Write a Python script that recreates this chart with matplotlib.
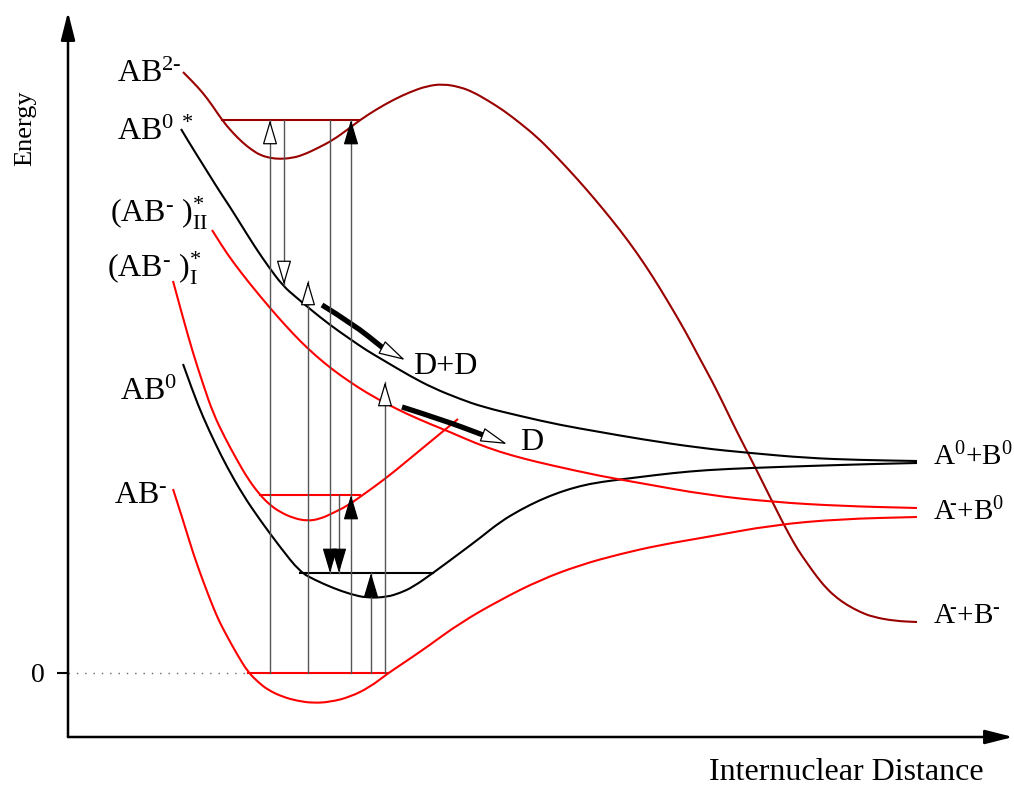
import matplotlib.pyplot as plt
from matplotlib.path import Path
from matplotlib.patches import PathPatch

plt.rcParams['font.family'] = 'Liberation Serif'
plt.rcParams['mathtext.fontset'] = 'custom'
plt.rcParams['mathtext.rm'] = 'Liberation Serif'
plt.rcParams['mathtext.it'] = 'Liberation Serif:italic'
plt.rcParams['mathtext.default'] = 'regular'

RED = '#ff0000'
DARKRED = '#990000'
GREY = '#555555'

# potential curves (distance, energy), arbitrary units
ab2m_x = [115, 125, 135, 144, 154, 164, 175, 184, 192, 202, 212, 224, 235, 250, 265, 279, 292, 309, 325,
          342, 359, 375, 392, 405, 419, 435, 452, 469, 485, 502, 519, 535, 552, 569, 585, 599, 612, 622,
          632, 644, 655, 669, 682, 694, 705, 714, 722, 730, 739, 749, 759, 769, 779, 792, 805, 827, 849]
ab2m_y = [601, 591, 580, 568, 553, 541, 530, 523, 518, 515, 514, 515, 518, 525, 533, 543, 553, 564, 573,
          581, 587, 589, 586, 581, 573, 563, 550, 536, 520, 502, 483, 464, 443, 420, 396, 373, 351, 333,
          314, 292, 270, 241, 216, 192, 170, 152, 137, 123, 110, 96, 84, 75, 68, 61, 56, 52, 51]

ab0s_x = [113, 122, 132, 142, 152, 162, 172, 187, 200, 215, 229, 242, 262, 282, 298, 315, 342, 365, 392,
          415, 452, 492, 532, 572, 632, 682, 739, 792, 849]
ab0s_y = [544, 529, 513, 497, 481, 466, 450, 426, 407, 387, 375, 364, 348, 334, 323, 313, 297, 285, 274,
          266, 257, 248, 241, 234, 225, 220, 215, 213, 212]

ab0_x = [115, 125, 135, 147, 159, 175, 192, 212, 232, 247, 265, 282, 299, 319, 332, 345, 365, 392, 412,
         432, 452, 472, 492, 512, 532, 572, 605, 639, 682, 739, 805, 849]
ab0_y = [309, 281, 256, 230, 206, 178, 153, 126, 101, 93, 85, 79, 75, 76, 80, 86, 100, 120, 135,
         151, 163, 173, 181, 187, 191, 196, 200, 203, 205, 207, 209, 210]

abm_x = [105, 115, 125, 135, 145, 152, 160, 170, 180, 190, 200, 215, 230, 245, 262, 282, 302, 319, 337,
         359, 392, 432, 472, 512, 552, 592, 639, 705, 772, 849]
abm_y = [184, 153, 120, 92, 66, 50, 35, 17, 1, -9, -17, -24, -28, -30, -29, -24, -14, -1, 11,
         26, 50, 73, 93, 108, 119, 128, 136, 148, 154, 156]

abm1_x = [105, 115, 125, 135, 145, 157, 169, 180, 192, 202, 212, 225, 239, 252, 265, 279, 292, 317, 339,
          362, 390]
abm1_y = [392, 355, 320, 289, 260, 235, 213, 194, 178, 168, 161, 155, 152, 154, 160, 167, 176, 194, 212,
          231, 254]

abm2_x = [144, 154, 165, 182, 202, 217, 232, 248, 265, 282, 299, 319, 339, 362, 382, 407, 432, 457, 482,
          532, 572, 639, 705, 772, 849]
abm2_y = [443, 427, 411, 389, 365, 348, 332, 317, 303, 291, 280, 269, 259, 249, 241, 230, 221, 214, 208,
          197, 190, 178, 171, 167, 165]

# vibrational levels: start, end, energy
lev_x0 = [154, 192, 232, 180]
lev_x1 = [292, 292, 365, 319]
lev_y = [553, 178, 100, 0]
lev_c = [DARKRED, RED, 'black', RED]

# vertical transitions: position, from, to, filled head
tr_x = [202, 216, 240, 262, 271, 283, 283, 303, 317]
tr_from = [0, 553, 0, 553, 178, 0, 178, 0, 0]
tr_to = [553, 388, 392, 100, 100, 178, 553, 100, 291]
tr_filled = [False, False, False, True, True, True, True, True, False]

# dissociation paths
d1_x = [254, 285, 315, 337]
d1_y = [368, 349, 325, 313]
d2_x = [334, 375, 415, 439]
d2_y = [266, 253, 238, 229]

fig = plt.figure(figsize=(10.14, 7.86), dpi=100)
ax = fig.add_axes([68 / 1014, 49 / 786, 946 / 1014, 737 / 786])
ax.set_xlim(0, 946)
ax.set_ylim(-64, 673)
for s in ax.spines.values():
    s.set_visible(False)
ax.set_xticks([])
ax.set_yticks([0])
ax.set_yticklabels(['0'])
ax.tick_params(axis='y', length=8, width=1.5, labelsize=20, pad=9)


def smooth_line(xs, ys, **kw):
    # quadratic bezier through the midpoints, the given points act as control points
    pts = list(zip(xs, ys))
    verts = [pts[0]]
    codes = [Path.MOVETO]
    for i in range(1, len(pts) - 1):
        mid = ((pts[i][0] + pts[i + 1][0]) / 2, (pts[i][1] + pts[i + 1][1]) / 2)
        verts += [pts[i], mid]
        codes += [Path.CURVE3, Path.CURVE3]
    verts.append(pts[-1])
    codes.append(Path.LINETO)
    ax.add_patch(PathPatch(Path(verts, codes), fill=False, capstyle='butt', **kw))


# axes with arrow heads
axis_arrow = dict(arrowstyle='-|>,head_length=17,head_width=4.3', mutation_scale=1,
                  fc='black', ec='black', lw=1.8, shrinkA=0, shrinkB=0)
ax.annotate('', xy=(0, 661), xytext=(0, -64), arrowprops=axis_arrow, annotation_clip=False)
ax.annotate('', xy=(945, -64), xytext=(0, -64), arrowprops=axis_arrow, annotation_clip=False)

ax.plot([0, lev_x0[3]], [0, 0], color='#666666', lw=1.0, ls=(0, (1, 5)))

lw = 1.5
smooth_line(ab2m_x, ab2m_y, ec=DARKRED, lw=lw)
smooth_line(ab0s_x, ab0s_y, ec='black', lw=lw)
smooth_line(ab0_x, ab0_y, ec='black', lw=lw)
smooth_line(abm_x, abm_y, ec=RED, lw=lw)
smooth_line(abm1_x, abm1_y, ec=RED, lw=lw)
smooth_line(abm2_x, abm2_y, ec=RED, lw=lw)

for x0, x1, y, c in zip(lev_x0, lev_x1, lev_y, lev_c):
    ax.plot([x0, x1], [y, y], color=c, lw=lw)

for x, y0, y1, filled in zip(tr_x, tr_from, tr_to, tr_filled):
    ax.plot([x, x], [y0, y1], color=GREY, lw=1.0)
    d = 1 if y1 > y0 else -1
    ax.annotate('', xy=(x, y1), xytext=(x, y1 - 22 * d),
                arrowprops=dict(arrowstyle='-|>,head_length=15.5,head_width=4.6', mutation_scale=1,
                                fc='black' if filled else 'white', ec='black', lw=0.9,
                                shrinkA=0, shrinkB=0))

for dx, dy in [(d1_x, d1_y), (d2_x, d2_y)]:
    smooth_line(dx[:-1], dy[:-1], ec='black', lw=3.8)
    ax.annotate('', xy=(dx[-1], dy[-1]), xytext=(dx[-2], dy[-2]),
                arrowprops=dict(arrowstyle='-|>,head_length=17,head_width=4.6', mutation_scale=1,
                                fc='white', ec='black', lw=0.9, shrinkA=0, shrinkB=0))

fs = 23
ax.text(49, 591, r'AB$^{2\text{-}}$', fontsize=fs)
ax.text(49, 533, r'AB$^{0\ *}$', fontsize=fs)
ax.text(42, 451, r'(AB$^{\text{-}}$ )$^{*}_{II}$', fontsize=fs)
ax.text(39, 396, r'(AB$^{\text{-}}$ )$^{*}_{I}$', fontsize=fs)
ax.text(52, 273, r'AB$^{0}$', fontsize=fs)
ax.text(46, 170, r'AB$^{\text{-}}$', fontsize=fs)
ax.text(345, 299, 'D+D', fontsize=fs)
ax.text(452, 223, 'D', fontsize=fs)

fs_r = 21
ax.text(865, 208, r'A$^{0}$+B$^{0}$', fontsize=fs_r)
ax.text(865, 153, r'A$^{\!\!\text{-}}$+B$^{0}$', fontsize=fs_r)
ax.text(865, 50, r'A$^{\!\!\text{-}}$+B$^{\text{-}}$', fontsize=fs_r)

fig.text(25 / 1014, 1 - 128 / 786, 'Energy', rotation=90, fontsize=19, ha='center', va='center')
fig.text(846 / 1014, 1 - 773 / 786, 'Internuclear Distance', fontsize=fs, ha='center', va='center')

fig.savefig('out.png', dpi=100)
